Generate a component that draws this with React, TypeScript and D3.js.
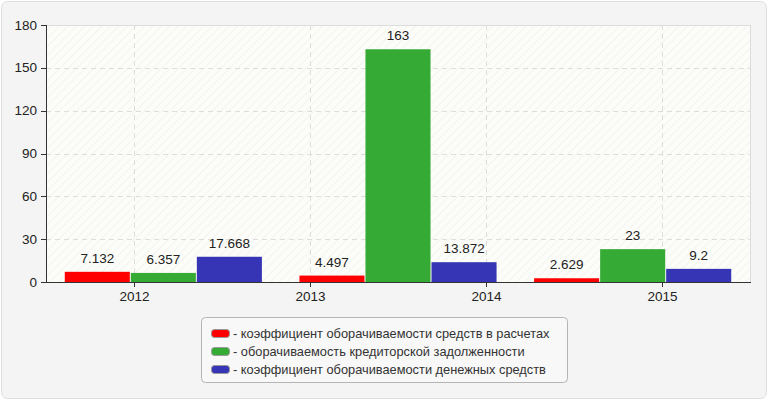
import React from "react";
import * as d3 from "d3";

const years = ["2012", "2013", "2014", "2015"];
const groups = ["g1", "g2", "g3"];
const seriesNames = [
  "- коэффициент оборачиваемости средств в расчетах",
  "- оборачиваемость кредиторской задолженности",
  "- коэффициент оборачиваемости денежных средств",
];
const seriesColors = ["#ff0000", "#35aa35", "#3535b5"];
const receivables = [7.132, 4.497, 2.629];
const payables = [6.357, 163, 23];
const cash = [17.668, 13.872, 9.2];
const yTicks = [0, 30, 60, 90, 120, 150, 180];

const W = 770;
const H = 400;
const M = { left: 46, right: 750, top: 25, bottom: 282 };
const font = "Arial, 'Liberation Sans', sans-serif";

export default function App() {
  const series = [receivables, payables, cash];
  const y = d3.scaleLinear().domain([0, 180]).range([M.bottom, M.top]);
  const xLab = d3.scaleBand().domain(years).range([M.left, M.right]);
  const xGroup = d3.scaleBand().domain(groups).range([M.left, M.right]).paddingInner(0.16).paddingOuter(0.08);
  const xInner = d3.scaleBand().domain(["0", "1", "2"]).range([0, xGroup.bandwidth()]).paddingInner(0.015);

  return (
    <svg width={W} height={H} style={{ position: "absolute", left: 0, top: 0 }}>
      <defs>
        <pattern id="hatch" width="6" height="6" patternUnits="userSpaceOnUse" patternTransform="rotate(45)">
          <rect width="6" height="6" fill="#fcfcf8" />
          <line x1="0" y1="0" x2="0" y2="6" stroke="#f0f0ec" strokeWidth="1.5" />
        </pattern>
      </defs>
      <rect x={1.5} y={1.5} width={765} height={397} rx={6} fill="#f4f4f4" stroke="#dedede" />
      <rect x={M.left} y={M.top} width={M.right - M.left} height={M.bottom - M.top} fill="url(#hatch)" />
      <line x1={M.left} x2={M.right} y1={M.top + 0.5} y2={M.top + 0.5} stroke="#dcdcdc" />
      <line x1={M.right + 0.5} x2={M.right + 0.5} y1={M.top} y2={M.bottom} stroke="#dcdcdc" />
      {yTicks.filter((t) => t !== 0 && t !== 180).map((t) => (
        <line key={t} x1={M.left} x2={M.right} y1={Math.round(y(t)) + 0.5} y2={Math.round(y(t)) + 0.5}
          stroke="#dddddd" strokeDasharray="5,4" />
      ))}
      {years.map((yr) => {
        const cx = Math.round(xLab(yr)! + xLab.bandwidth() / 2) + 0.5;
        return (
          <line key={yr} x1={cx} x2={cx} y1={M.top} y2={M.bottom} stroke="#dddddd" strokeDasharray="5,4" />
        );
      })}
      {groups.map((g, gi) =>
        series.map((s, si) => {
          const x0 = xGroup(g)! + xInner(String(si))!;
          const v = s[gi];
          const yy = y(v);
          return (
            <g key={g + si}>
              <rect x={x0} y={yy} width={xInner.bandwidth()} height={M.bottom - yy} fill={seriesColors[si]} />
              <text x={x0 + xInner.bandwidth() / 2} y={yy - 9} textAnchor="middle" fontFamily={font}
                fontSize={13.5} fill="#222">{String(v)}</text>
            </g>
          );
        })
      )}
      <line x1={M.left + 0.5} x2={M.left + 0.5} y1={M.top} y2={M.bottom} stroke="#333" />
      <line x1={M.left} x2={M.right + 1} y1={M.bottom + 0.5} y2={M.bottom + 0.5} stroke="#333" />
      {yTicks.map((t) => (
        <g key={t}>
          <line x1={M.left - 5} x2={M.left} y1={Math.round(y(t)) + 0.5} y2={Math.round(y(t)) + 0.5} stroke="#333" />
          <text x={M.left - 9} y={y(t) + 4.5} textAnchor="end" fontFamily={font} fontSize={13.5} fill="#222">{t}</text>
        </g>
      ))}
      {years.map((yr) => {
        const cx = Math.round(xLab(yr)! + xLab.bandwidth() / 2) + 0.5;
        return (
          <g key={yr}>
            <line x1={cx} x2={cx} y1={M.bottom} y2={M.bottom + 5} stroke="#333" />
            <text x={cx} y={M.bottom + 19} textAnchor="middle" fontFamily={font} fontSize={13.5} fill="#222">{yr}</text>
          </g>
        );
      })}
      <rect x={201.5} y={317.5} width={366} height={65} rx={4} fill="#f8f8f8" stroke="#b4b4b4" />
      {seriesNames.map((n, i) => (
        <g key={n} transform={`translate(0, ${329 + i * 18})`}>
          <rect x={211.5} y={0.5} width={18} height={8} rx={3} fill={seriesColors[i]} stroke="#999" />
          <text x={233} y={8.5} fontFamily={font} fontSize={12.8} fill="#333">{n}</text>
        </g>
      ))}
    </svg>
  );
}
